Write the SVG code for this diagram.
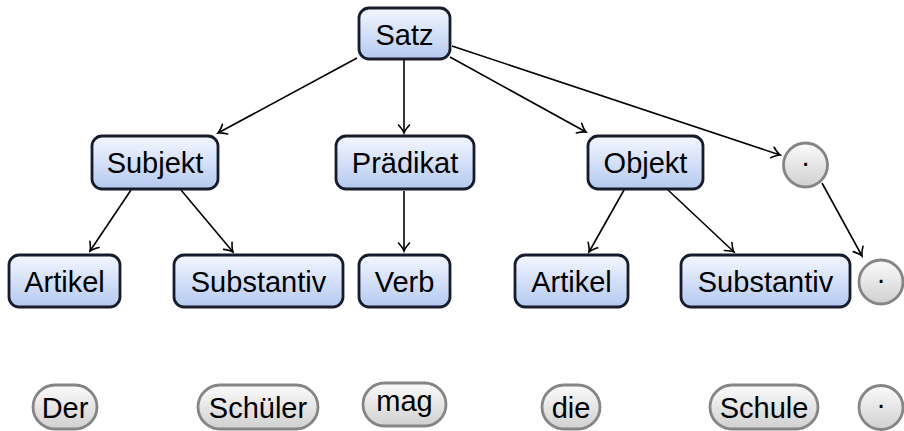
<svg xmlns="http://www.w3.org/2000/svg" width="904" height="431" viewBox="0 0 904 431">
<defs>
<linearGradient id="gb" x1="0" y1="0" x2="0" y2="1">
<stop offset="0" stop-color="#f4f7ff"/>
<stop offset="1" stop-color="#b4c9f0"/>
</linearGradient>
<linearGradient id="gg" x1="0" y1="0" x2="0" y2="1">
<stop offset="0" stop-color="#fbfbfb"/>
<stop offset="1" stop-color="#d0d0d0"/>
</linearGradient>
<marker id="ar" markerUnits="userSpaceOnUse" viewBox="-10 -7 12 14" markerWidth="12" markerHeight="14" refX="0" refY="0" orient="auto">
<path d="M -8 -5.5 Q -3 -1 0 0 Q -3 1 -8 5.5" fill="none" stroke="#000" stroke-width="1.6" stroke-linecap="round"/>
</marker>
<style>
.box{fill:url(#gb);stroke:#161c2c;stroke-width:2.8}
.ov{fill:url(#gg);stroke:#858585;stroke-width:2.8}
.t{font-family:"Liberation Sans",Arial,sans-serif;font-size:29px;fill:#000;text-anchor:middle}
.e{fill:none;stroke:#000;stroke-width:1.6;marker-end:url(#ar)}
</style>
</defs>
<g id="edges">
<line class="e" x1="357" y1="58" x2="218" y2="133"/>
<line class="e" x1="404" y1="60" x2="404" y2="133"/>
<line class="e" x1="450" y1="57" x2="586" y2="132"/>
<line class="e" x1="452" y1="46" x2="780" y2="155"/>
<line class="e" x1="131" y1="190" x2="90" y2="251"/>
<line class="e" x1="181" y1="190" x2="233" y2="252"/>
<line class="e" x1="404" y1="191" x2="404" y2="251"/>
<line class="e" x1="624" y1="190" x2="589" y2="252"/>
<line class="e" x1="668" y1="190" x2="734" y2="252"/>
<line class="e" x1="822" y1="183" x2="862" y2="256"/>
</g>
<g id="satz"><rect class="box" x="359" y="8" width="91" height="51" rx="10"/><text class="t" x="404.5" y="44.5">Satz</text></g>
<g id="subjekt"><rect class="box" x="92" y="136" width="126" height="53" rx="10"/><text class="t" x="155" y="172.5">Subjekt</text></g>
<g id="praedikat"><rect class="box" x="336" y="136" width="138" height="53" rx="10"/><text class="t" x="405" y="172.5">Prädikat</text></g>
<g id="objekt"><rect class="box" x="588" y="136" width="115" height="53" rx="10"/><text class="t" x="645.5" y="172.5">Objekt</text></g>
<g id="dot1"><circle class="ov" cx="805.5" cy="165" r="22"/><text class="t" x="805.5" y="172">·</text></g>
<g id="artikel1"><rect class="box" x="9" y="255" width="111" height="52" rx="10"/><text class="t" x="64.5" y="291.5">Artikel</text></g>
<g id="substantiv1"><rect class="box" x="174" y="255" width="169" height="52" rx="10"/><text class="t" x="258.5" y="291.5">Substantiv</text></g>
<g id="verb"><rect class="box" x="359" y="255" width="91" height="52" rx="10"/><text class="t" x="404.5" y="291.5">Verb</text></g>
<g id="artikel2"><rect class="box" x="515" y="255" width="113" height="52" rx="10"/><text class="t" x="571.5" y="291.5">Artikel</text></g>
<g id="substantiv2"><rect class="box" x="681" y="255" width="169" height="52" rx="10"/><text class="t" x="765.5" y="291.5">Substantiv</text></g>
<g id="dot2"><circle class="ov" cx="881" cy="282" r="22"/><text class="t" x="881" y="289">·</text></g>
<g id="der"><rect class="ov" x="33" y="385" width="64" height="44" rx="22"/><text class="t" x="65" y="417.5">Der</text></g>
<g id="schueler"><rect class="ov" x="198" y="385" width="120" height="44" rx="22"/><text class="t" x="258" y="417.5">Schüler</text></g>
<g id="mag"><rect class="ov" x="363" y="383" width="83" height="43" rx="21.5"/><text class="t" x="404.5" y="411">mag</text></g>
<g id="die"><rect class="ov" x="542" y="385" width="58" height="44" rx="22"/><text class="t" x="571" y="417.5">die</text></g>
<g id="schule"><rect class="ov" x="710" y="385" width="108" height="44" rx="22"/><text class="t" x="764" y="417.5">Schule</text></g>
<g id="dot3"><circle class="ov" cx="881" cy="407.5" r="22"/><text class="t" x="881" y="414">·</text></g>
</svg>
